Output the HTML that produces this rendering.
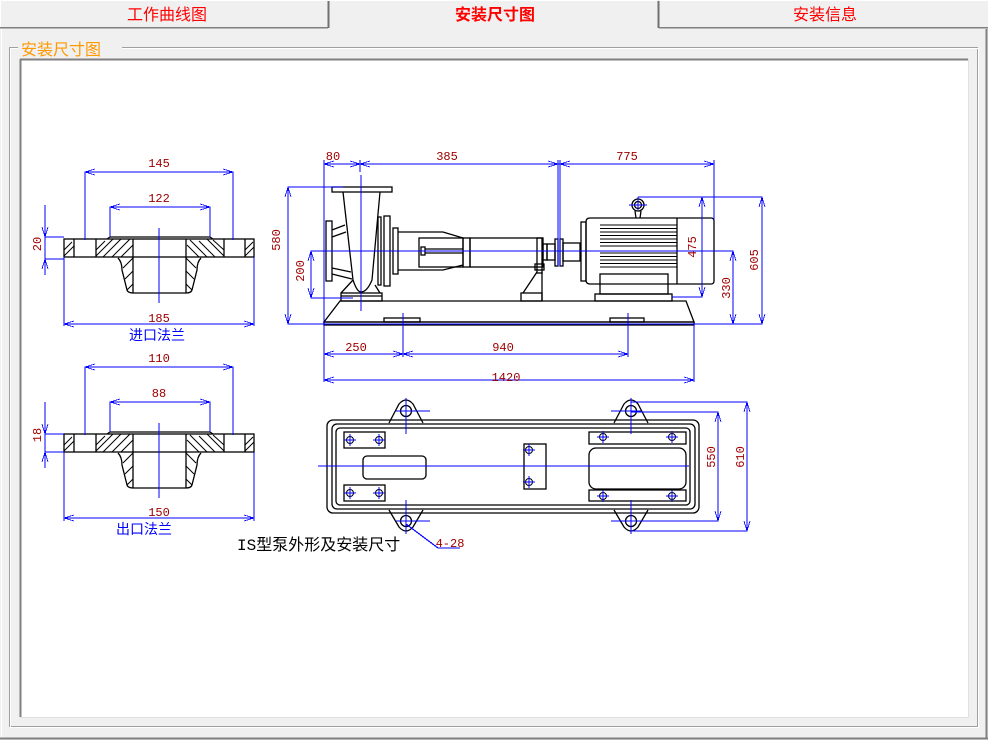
<!DOCTYPE html>
<html><head><meta charset="utf-8"><style>
html,body{margin:0;padding:0;background:#f0f0f0;width:988px;height:740px;overflow:hidden;font-family:"Liberation Sans","Noto Sans CJK SC",sans-serif}
svg{position:absolute;left:0;top:0}
</style></head><body>
<svg width="988" height="740" viewBox="0 0 988 740" xmlns="http://www.w3.org/2000/svg" shape-rendering="crispEdges">
<rect x="0" y="0" width="988" height="740" fill="#f0f0f0"/>
<rect x="0.5" y="0.5" width="328" height="27" fill="#f0f0f0" stroke="#fff"/>
<line x1="328.5" y1="1" x2="328.5" y2="28" stroke="#707070" stroke-width="2"/>
<line x1="0" y1="27.5" x2="328" y2="27.5" stroke="#808080" stroke-width="1.5"/>
<line x1="658.5" y1="1" x2="658.5" y2="28" stroke="#707070" stroke-width="2"/>
<line x1="659" y1="0.5" x2="988" y2="0.5" stroke="#fff"/>
<line x1="659" y1="27.5" x2="988" y2="27.5" stroke="#808080" stroke-width="1.5"/>
<line x1="330" y1="0.5" x2="657" y2="0.5" stroke="#fff"/>
<text x="167" y="20" font-size="16" fill="#ff0000" text-anchor="middle" font-family="'Liberation Sans','Noto Sans CJK SC',sans-serif">工作曲线图</text>
<text x="495" y="20" font-size="16" fill="#ff0000" font-weight="bold" text-anchor="middle" font-family="'Liberation Sans','Noto Sans CJK SC',sans-serif">安装尺寸图</text>
<text x="825" y="20" font-size="16" fill="#ff0000" text-anchor="middle" font-family="'Liberation Sans','Noto Sans CJK SC',sans-serif">安装信息</text>
<line x1="1.5" y1="29" x2="1.5" y2="738" stroke="#fff"/>
<line x1="0" y1="738.5" x2="988" y2="738.5" stroke="#808080" stroke-width="2"/>
<line x1="986.5" y1="29" x2="986.5" y2="738" stroke="#808080" stroke-width="2"/>
<rect x="9.5" y="47.5" width="968" height="679" fill="none" stroke="#a0a0a0"/>
<rect x="10.5" y="48.5" width="968" height="679" fill="none" stroke="#fff"/>
<rect x="18" y="40" width="104" height="14" fill="#f0f0f0"/>
<text x="21" y="55" font-size="16" fill="#ff9900" font-family="'Liberation Sans','Noto Sans CJK SC',sans-serif">安装尺寸图</text>
<rect x="20" y="59" width="948" height="658" fill="#fff"/>
<line x1="20" y1="59.5" x2="968" y2="59.5" stroke="#808080" stroke-width="2"/>
<line x1="20.5" y1="59" x2="20.5" y2="717" stroke="#808080" stroke-width="2"/>
<line x1="20" y1="717.5" x2="968" y2="717.5" stroke="#e0e0e0"/>
<line x1="968.5" y1="59" x2="968.5" y2="718" stroke="#e0e0e0"/>

<g fill="none" stroke="#000" stroke-width="1.3" shape-rendering="auto">
<g id="fl">
<rect x="64" y="239" width="190" height="18"/>
<line x1="74" y1="239" x2="74" y2="257"/><line x1="96" y1="239" x2="96" y2="257"/>
<line x1="224" y1="239" x2="224" y2="257"/><line x1="245" y1="239" x2="245" y2="257"/>
<line x1="133" y1="239" x2="133" y2="293"/><line x1="186" y1="239" x2="186" y2="293"/>
<path d="M118 258 Q122 262 122 270 L127 290 Q128 293 133 293 L186 293 Q191 293 192 290 L197 270 Q197 262 201 258"/>
<path d="M107 239 L110 237 L210 237 L213 239"/>
<path stroke-width="1" d="M64 250 L72 242 M64 256 L74 246 M96 250 L105 241 M96 256 L113 239 M103 257 L121 239 M112 257 L130 239 M121 257 L133 245 M123 268 L133 258 M125 279 L133 271 M127 290 L133 284
M245 250 L253 242 M245 256 L254 247 M224 250 L213 240 M224 256 L207 239 M215 257 L199 241 M207 257 L190 240 M199 257 L187 245 M196 268 L186 258 M194 279 L186 271 M192 290 L186 284"/>
</g>
<use href="#fl" transform="translate(0,195)"/>

<path d="M340 301 L686 301 L694 322 L324 322 Z"/>
<rect x="324" y="322" width="370" height="3"/>
<rect x="384" y="318" width="36" height="4"/><rect x="610" y="318" width="34" height="4"/>
<rect x="332" y="187" width="60" height="5"/>
<path d="M343 192 L353 280 Q357 292 361 292 Q367 292 372 280 L380 192"/>
<rect x="326" y="221" width="6" height="60"/>
<path d="M332 230 L345 225 M332 237 L346 232 M332 268 L351 272 M332 274 L352 279"/>
<path d="M353 280 L341 293 M375 285 L380 293"/>
<rect x="341" y="293" width="41" height="8"/><line x1="341" y1="296" x2="382" y2="296"/>
<rect x="378" y="217" width="3" height="68"/>
<rect x="384" y="216" width="6" height="70"/>
<rect x="393" y="228" width="5" height="46"/>
<path d="M398 232 L443 232 L463 238 M398 270 L443 270 L463 265"/>
<rect x="419" y="238" width="44" height="29"/>
<rect x="421" y="247" width="4" height="8"/><line x1="425" y1="249" x2="463" y2="249"/><line x1="425" y1="253" x2="463" y2="253"/>
<rect x="463" y="238" width="7" height="29"/>
<rect x="470" y="238" width="73" height="29"/>
<rect x="537" y="238" width="5" height="35"/>
<rect x="535" y="264" width="9" height="6"/>
<path d="M537 272 L523 293 M542 272 L542 301"/>
<rect x="521" y="293" width="21" height="8"/>
<rect x="543" y="244" width="4" height="16"/>
<rect x="547" y="244" width="8" height="16"/><rect x="555" y="239" width="3" height="27"/><rect x="560" y="239" width="3" height="27"/><rect x="563" y="243" width="17" height="18"/>
<rect x="581" y="222" width="5" height="59"/>
<path d="M590 218 L711 218 Q714 218 714 221 L714 281 Q714 284 711 284 L590 284 Q586 284 586 280 L586 222 Q586 218 590 218 Z"/>
<line x1="677" y1="218" x2="677" y2="284"/>
<path stroke-width="1" d="M600 225H677M600 228.5H677M600 232H677M600 235.5H677M600 239H677M600 242.5H677M600 246H677M600 253H677M600 256.5H677M600 260H677M600 263.5H677M600 267H677"/>
<rect x="600" y="274" width="68" height="20"/>
<rect x="595" y="294" width="77" height="7"/>
<circle cx="638" cy="205" r="6"/><circle cx="638" cy="205" r="3.5"/>
<path d="M635 211 L636 218 M641 211 L640 218"/>

<rect x="327" y="420" width="372" height="93" rx="6"/>
<rect x="332" y="424" width="363" height="85" rx="5"/>
<rect x="336" y="428" width="354" height="77" rx="4"/>
<path d="M389 423 L399 404 Q406 396 413 404 L423 423"/>
<path d="M389 510 L399 527 Q406 535 413 527 L423 510"/>
<path d="M614 423 L624 404 Q631 396 638 404 L648 423"/>
<path d="M614 510 L624 527 Q631 535 638 527 L648 510"/>
<circle cx="406" cy="411" r="5.5"/><circle cx="406" cy="521" r="5.5"/>
<circle cx="631" cy="411" r="5.5"/><circle cx="631" cy="521" r="5.5"/>
<rect x="344" y="432" width="41" height="16"/><rect x="344" y="485" width="41" height="16"/>
<rect x="589" y="432" width="97" height="12"/><rect x="589" y="490" width="97" height="11"/>
<rect x="363" y="456" width="63" height="23" rx="4"/>
<rect x="589" y="448" width="97" height="41" rx="7"/>
<rect x="524" y="444" width="22" height="45"/>
<g stroke-width="1">
<circle cx="350" cy="440" r="3.5"/><circle cx="379" cy="440" r="3.5"/><circle cx="350" cy="493" r="3.5"/><circle cx="379" cy="493" r="3.5"/>
<circle cx="603" cy="437" r="3.5"/><circle cx="672" cy="437" r="3.5"/><circle cx="603" cy="496" r="3.5"/><circle cx="672" cy="496" r="3.5"/>
<circle cx="529" cy="450" r="3.5"/><circle cx="529" cy="482" r="3.5"/>
</g>
</g>

<g stroke="#0000ff" stroke-width="1.2" fill="none">
<path d="M85 172 H233 M85 172 V240 M233 172 V240 M110 207 H210 M110 207 V237 M210 207 V237 M159 228 V303 M64 257 V326 M254 257 V326 M64 324 H254 M45 205 V275 M45 237 H64 M45 259 H64"/>
<path d="M85 367 H233 M85 367 V435 M233 367 V435 M110 402 H210 M110 402 V432 M210 402 V432 M159 423 V498 M64 452 V521 M254 452 V521 M64 518 H254 M45 402 V468 M45 434 H64 M45 452 H64"/>
<g stroke-width="0.8">
<path d="M95 169 L85 172 L95 175 M223 169 L233 172 L223 175 M120 204 L110 207 L120 210 M200 204 L210 207 L200 210 M74 321 L64 324 L74 327 M244 321 L254 324 L244 327 M42 227 L45 237 L48 227 M42 269 L45 259 L48 269"/>
<path d="M95 364 L85 367 L95 370 M223 364 L233 367 L223 370 M120 399 L110 402 L120 405 M200 399 L210 402 L200 405 M74 515 L64 518 L74 521 M244 515 L254 518 L244 521 M42 424 L45 434 L48 424 M42 462 L45 452 L48 462"/>
</g>
<path d="M324 164 H714 M324 160 V382 M360 160 V172 M558 160 V266 M560 160 V266 M714 160 V220 M361 175 V311"/>
<path d="M288 187 V324 M288 187 H343 M311 251 V298 M311 251 H733 M311 298 H353 M702 197 V297 M638 197 H762 M733 251 V324 M762 197 V324 M288 324 H762 M672 297 H702"/>
<path d="M324 354 H628 M403 313 V357 M628 313 V357 M324 380 H694 M694 324 V382 M638 197 V210 M629 205 H647"/>
<g stroke-width="0.8">
<path d="M334 161 L324 164 L334 167 M350 161 L360 164 L350 167 M370 161 L360 164 L370 167 M548 161 L558 164 L548 167 M570 161 L560 164 L570 167 M704 161 L714 164 L704 167"/>
<path d="M285 197 L288 187 L291 197 M285 314 L288 324 L291 314 M308 261 L311 251 L314 261 M308 288 L311 298 L314 288 M699 207 L702 197 L705 207 M699 287 L702 297 L705 287 M730 261 L733 251 L736 261 M730 314 L733 324 L736 314 M759 207 L762 197 L765 207 M759 314 L762 324 L765 314"/>
<path d="M334 351 L324 354 L334 357 M393 351 L403 354 L393 357 M413 351 L403 354 L413 357 M618 351 L628 354 L618 357 M334 377 L324 380 L334 383 M684 377 L694 380 L684 383"/>
</g>
<path d="M318 466 H689 M406 398 V434 M396 411 H430 M406 500 V534 M396 521 H430 M631 398 V434 M611 411 H641 M631 500 V534 M611 521 H641"/>
<path d="M631 402 H747 M631 412 H718 M631 521 H718 M631 531 H747 M718 412 V521 M747 402 V531 M406 524 L438 548 H460"/>
<g stroke-width="0.8">
<path d="M715 422 L718 412 L721 422 M715 511 L718 521 L721 511 M744 412 L747 402 L750 412 M744 521 L747 531 L750 521"/>
<path d="M344 440 H356 M350 434 V446 M373 440 H385 M379 434 V446 M344 493 H356 M350 487 V499 M373 493 H385 M379 487 V499 M597 437 H609 M603 431 V443 M666 437 H678 M672 431 V443 M597 496 H609 M603 490 V502 M666 496 H678 M672 490 V502 M523 450 H535 M529 444 V456 M523 482 H535 M529 476 V488"/>
</g>
</g>

<g font-family="'Liberation Mono',monospace" font-size="12" fill="#a00000" text-anchor="middle">
<text x="159" y="167">145</text><text x="159" y="202">122</text><text x="159" y="322">185</text>
<text x="159" y="362">110</text><text x="159" y="397">88</text><text x="159" y="516">150</text>
<text x="333" y="160">80</text><text x="447" y="160">385</text><text x="627" y="160">775</text>
<text x="356" y="351">250</text><text x="503" y="351">940</text><text x="506" y="381">1420</text>
<text x="450" y="547">4-28</text>
<text transform="translate(41,244) rotate(-90)">20</text>
<text transform="translate(41,435) rotate(-90)">18</text>
<text transform="translate(280,240) rotate(-90)">580</text>
<text transform="translate(304,271) rotate(-90)">200</text>
<text transform="translate(696,247) rotate(-90)">475</text>
<text transform="translate(730,288) rotate(-90)">330</text>
<text transform="translate(758,260) rotate(-90)">605</text>
<text transform="translate(715,457) rotate(-90)">550</text>
<text transform="translate(744,457) rotate(-90)">610</text>
</g>
<g font-family="'Liberation Sans','Noto Sans CJK SC',sans-serif" font-size="14" fill="#0000ff" text-anchor="middle">
<text x="157" y="340">进口法兰</text><text x="144" y="534">出口法兰</text>
</g>
<text x="237" y="550" font-size="16" fill="#000" font-family="'Liberation Mono','Noto Sans CJK SC',monospace">IS型泵外形及安装尺寸</text>
</svg>
</body></html>
